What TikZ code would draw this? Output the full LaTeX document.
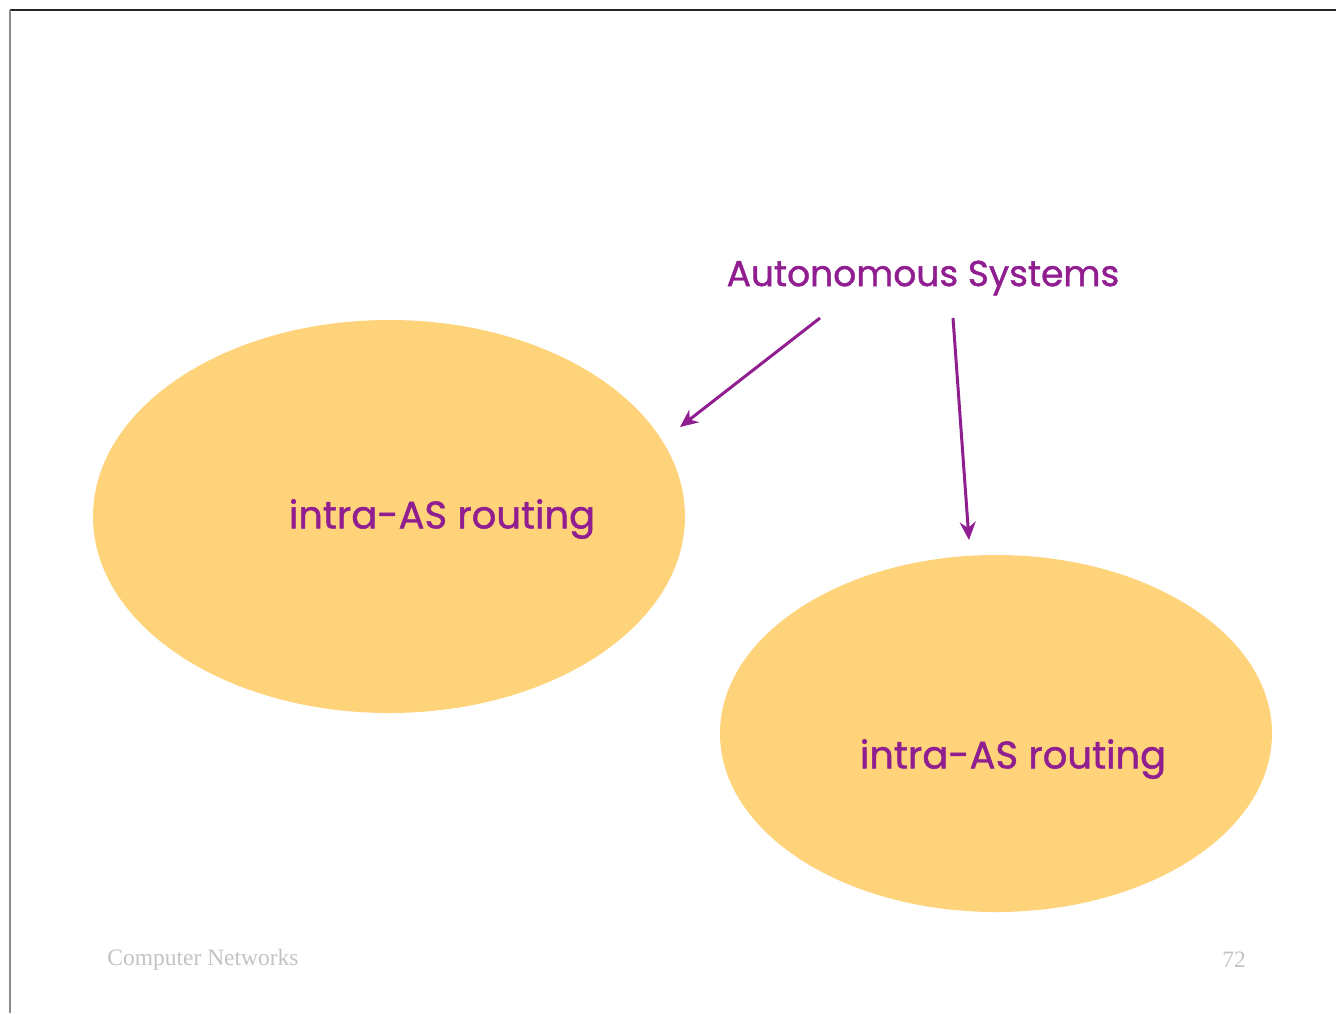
\documentclass[tikz,border=0pt]{standalone}
\usepackage{fontspec}
\setmainfont{Liberation Serif}
\newfontfamily\handfont[FakeBold=1.2]{Poppins}
\usepackage{xcolor}
\usepackage{tikz}
\usetikzlibrary{positioning,shapes.geometric,arrows.meta}
\definecolor{ASFill}{RGB}{254, 211, 122}
\definecolor{ASPurple}{RGB}{145, 30, 145}
\definecolor{FootGray}{RGB}{195, 195, 195}

\begin{document}
\begin{tikzpicture}[x=1pt, y=-1pt,
    asblob/.style={ellipse, fill=ASFill, inner sep=0pt},
    label/.style={font=\handfont\fontsize{36}{40}\selectfont, text=ASPurple, inner sep=0pt},
    arr/.style={-{Stealth[length=18pt, width=16pt]}, line width=3pt, ASPurple},
    foot/.style={font=\fontsize{23.5}{26}\selectfont, text=FootGray, inner sep=0pt},
]
\useasboundingbox (0,0) rectangle (1336,1013);
\fill[white] (0,0) rectangle (1336,1013);
\draw[line width=1.5pt, black!85] (10,10) -- (1336,10);
\draw[line width=1.5pt, black!45] (10,10) -- (10,1013);

\node[asblob, minimum width=592pt, minimum height=393pt] (as1) at (389,516.5) {};
\node[asblob, minimum width=552pt, minimum height=357pt] (as2) at (996,733.5) {};

\node[label, font=\handfont\fontsize{38.5}{42}\selectfont] (intra1) at (442,519) {intra-AS routing};
\node[label, font=\handfont\fontsize{38.5}{42}\selectfont] (intra2) at (1013,759) {intra-AS routing};
\node[label] (title) at (923,278) {Autonomous Systems};

\coordinate (start1) at (820,318);
\coordinate (start2) at (953,318);
\coordinate (tip1) at (680,427);
\coordinate (tip2) at (969,540);
\draw[arr] (start1) -- (tip1);
\draw[arr] (start2) -- (tip2);

\node[foot] (course) at (203,960) {Computer Networks};
\node[foot] (page) at (1234,960) {72};
\end{tikzpicture}
\end{document}
